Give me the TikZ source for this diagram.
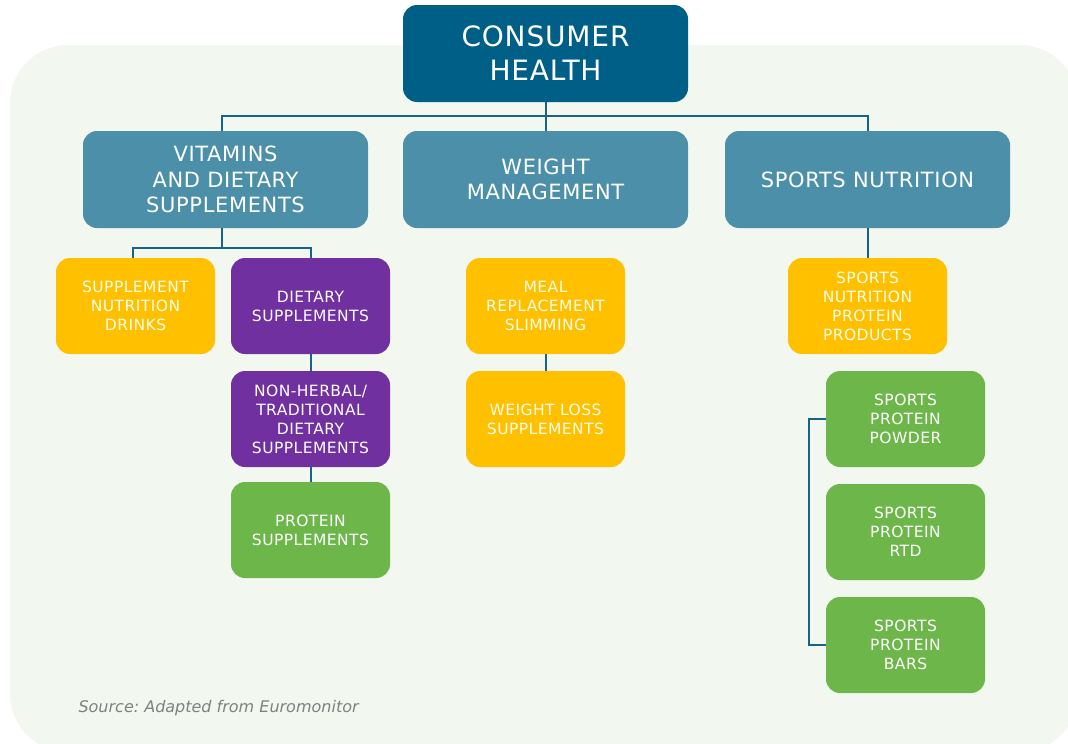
\documentclass[tikz,border=0pt]{standalone}
\usepackage{fontspec}
\setmainfont{DejaVu Sans}[LetterSpace=3]
\newfontfamily\srcfont{DejaVu Sans}
\usetikzlibrary{positioning}
\definecolor{chTeal}{RGB}{0,95,135}
\definecolor{catTeal}{RGB}{76,143,168}
\definecolor{ylw}{RGB}{255,192,0}
\definecolor{prp}{RGB}{112,48,160}
\definecolor{grn}{RGB}{108,182,74}
\definecolor{linkCol}{RGB}{22,100,140}
\definecolor{bgCol}{RGB}{242,247,240}
\def\boxW{159pt}
\def\boxH{96pt}
\tikzset{
  font={\fontsize{15.5pt}{19pt}\selectfont}
}
\tikzstyle{box}=[rectangle,rounded corners=14pt,inner sep=0pt,align=center,text=white,minimum width=\boxW,minimum height=\boxH]
\tikzstyle{topbox}=[box,fill=chTeal,minimum width=285pt,minimum height=97pt,font={\fontsize{28pt}{34pt}\selectfont}]
\tikzstyle{catbox}=[box,fill=catTeal,minimum width=285pt,minimum height=97pt,font={\fontsize{21pt}{25.5pt}\selectfont}]
\tikzstyle{ybox}=[box,fill=ylw,text=white!92!yellow]
\tikzstyle{pbox}=[box,fill=prp]
\tikzstyle{gbox}=[box,fill=grn]
\tikzstyle{link}=[draw=linkCol,line width=2pt]

\begin{document}
\begin{tikzpicture}[x=1pt,y=-1pt]
    \clip (0,0) rectangle (1068,744);
    \fill[bgCol,rounded corners=58pt] (10,45) rectangle (1078,752);

    % top level
    \node[topbox] (ch) at (545.5,53.5) {CONSUMER\\HEALTH};

    % categories
    \node[catbox] (vit) at (225.5,179.5) {VITAMINS\\AND DIETARY\\SUPPLEMENTS};
    \node[catbox] (wm) at (545.5,179.5) {WEIGHT\\MANAGEMENT};
    \node[catbox] (sn) at (867.5,179.5) {SPORTS NUTRITION};

    % vitamins branch
    \node[ybox] (snd) at (135.5,306) {SUPPLEMENT\\NUTRITION\\DRINKS};
    \node[pbox] (ds) at (310.5,306) {DIETARY\\SUPPLEMENTS};
    \node[pbox] (nh) at (310.5,419) {NON-HERBAL/\\TRADITIONAL\\DIETARY\\SUPPLEMENTS};
    \node[gbox] (ps) at (310.5,530) {PROTEIN\\SUPPLEMENTS};

    % weight management branch
    \node[ybox] (mrs) at (545.5,306) {MEAL\\REPLACEMENT\\SLIMMING};
    \node[ybox] (wls) at (545.5,419) {WEIGHT LOSS\\SUPPLEMENTS};

    % sports nutrition branch
    \node[ybox] (snpp) at (867.5,306) {SPORTS\\NUTRITION\\PROTEIN\\PRODUCTS};
    \foreach \name/\y/\kind in {spp/419/POWDER,spr/532/RTD,spb/645/BARS}
        \node[gbox] (\name) at (905.5,\y) {SPORTS\\PROTEIN\\\kind};

    % connections
    \draw[link] (ch.south) -- ++(0,14) coordinate (bus);
    \draw[link] ([xshift=-3.5pt]vit.north) |- (bus) -| (sn.north);
    \draw[link] (bus) -- (wm.north);
    \draw[link] ([xshift=-3.5pt]vit.south) -- ++(0,20) coordinate (vitbus);
    \draw[link] ([xshift=-2.5pt]snd.north) |- (vitbus) -| (ds.north);
    \draw[link] (ds) -- (nh);
    \draw[link] (nh) -- (ps);
    \draw[link] (mrs) -- (wls);
    \draw[link] (sn.south) -- (snpp.north);
    \draw[link] (spp.west) -- ++(-17,0) |- (spb.west);

    \node[anchor=west,text=black!50,font={\srcfont\fontsize{16pt}{18pt}\selectfont\itshape}] (src) at (75,708) {Source:\ Adapted from Euromonitor};
\end{tikzpicture}
\end{document}
